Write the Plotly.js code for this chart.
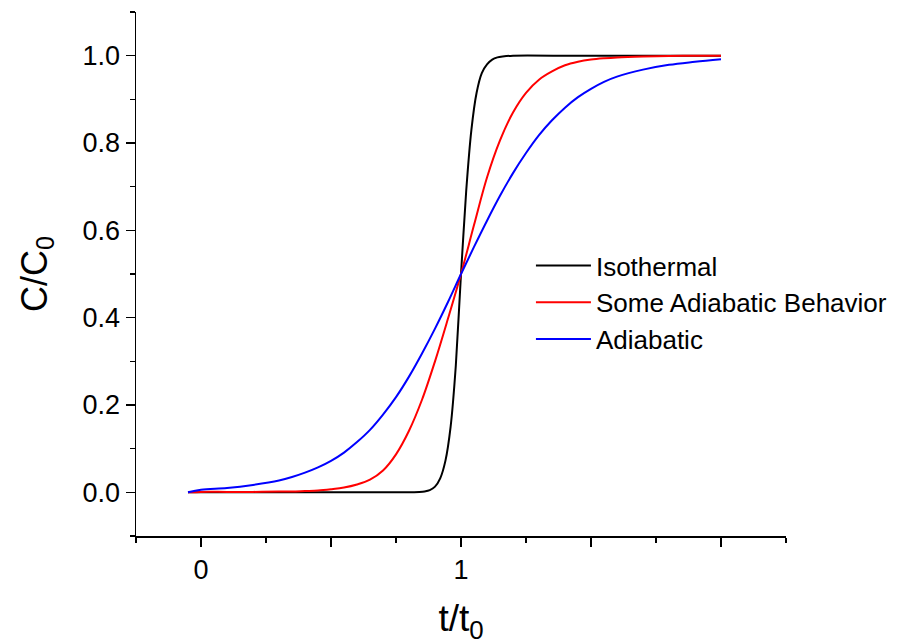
<!DOCTYPE html>
<html>
<head>
<meta charset="utf-8">
<script src="https://cdn.plot.ly/plotly-3.0.1.min.js"></script>
<style>html,body{margin:0;padding:0;background:#fff;}#chart{width:907px;height:644px;}</style>
</head>
<body>
<div id="chart"></div>
<script>
// Series names
const seriesNames = ["Isothermal", "Some Adiabatic Behavior", "Adiabatic"];

// Isothermal (black)
const isoT = [-0.05, 0, 0.2, 0.4, 0.6, 0.8, 0.84, 0.86, 0.88, 0.90, 0.92, 0.94, 0.96, 0.98, 1.0, 1.02, 1.04, 1.06, 1.08, 1.10, 1.12, 1.14, 1.16, 1.2, 1.4, 1.6, 1.8, 2.0];
const isoC = [0, 0, 0, 0, 0, 0, 0.001, 0.002, 0.005, 0.013, 0.032, 0.072, 0.15, 0.29, 0.5, 0.69, 0.83, 0.915, 0.96, 0.98, 0.991, 0.996, 0.998, 1.0, 1.0, 1.0, 1.0, 1.0];

// Some adiabatic behavior (red)
const someT = [-0.05, 0, 0.1, 0.2, 0.3, 0.35, 0.4, 0.45, 0.5, 0.55, 0.6, 0.65, 0.7, 0.75, 0.8, 0.85, 0.9, 0.95, 1.0, 1.05, 1.1, 1.15, 1.2, 1.25, 1.3, 1.35, 1.4, 1.45, 1.5, 1.55, 1.6, 1.7, 1.8, 1.9, 2.0];
const someC = [0, 0.001, 0.001, 0.001, 0.002, 0.002, 0.003, 0.004, 0.007, 0.011, 0.018, 0.029, 0.05, 0.087, 0.141, 0.212, 0.3, 0.398, 0.5, 0.612, 0.721, 0.806, 0.87, 0.915, 0.945, 0.964, 0.978, 0.986, 0.991, 0.994, 0.996, 0.998, 0.999, 1.0, 1.0];

// Adiabatic (blue)
const adiT = [-0.05, 0, 0.1, 0.2, 0.3, 0.35, 0.4, 0.45, 0.5, 0.55, 0.6, 0.65, 0.7, 0.75, 0.8, 0.85, 0.9, 0.95, 1.0, 1.05, 1.1, 1.15, 1.2, 1.25, 1.3, 1.35, 1.4, 1.45, 1.5, 1.55, 1.6, 1.7, 1.8, 1.9, 2.0];
const adiC = [0, 0.006, 0.010, 0.017, 0.027, 0.035, 0.045, 0.057, 0.072, 0.091, 0.115, 0.143, 0.178, 0.218, 0.265, 0.318, 0.375, 0.436, 0.5, 0.562, 0.622, 0.679, 0.731, 0.777, 0.818, 0.852, 0.881, 0.905, 0.924, 0.94, 0.952, 0.968, 0.979, 0.986, 0.992];

// Axis ticks
const xTickVals = [0, 0.5, 1, 1.5, 2];
const xTickText = ["0", "", "1", "", ""];
const xMinorVals = [-0.25, 0.25, 0.75, 1.25, 1.75, 2.25];
const yTickVals = [0, 0.2, 0.4, 0.6, 0.8, 1.0];
const yTickText = ["0.0", "0.2", "0.4", "0.6", "0.8", "1.0"];

const font = "Liberation Sans, Arial, sans-serif";
const mk = (x, y, name, color, smooth) => ({
  x: x, y: y, name: name, type: "scatter", mode: "lines",
  line: {color: color, width: 2, shape: "spline", smoothing: smooth}
});

const data = [
  mk(isoT, isoC, seriesNames[0], "#000000", 0.5),
  mk(someT, someC, seriesNames[1], "#ff0000", 1),
  mk(adiT, adiC, seriesNames[2], "#0000ff", 1)
];

const axisCommon = {
  showline: true, linecolor: "#000", linewidth: 1.5,
  ticks: "outside", ticklen: 9, tickwidth: 1.5, tickcolor: "#000",
  showgrid: false, zeroline: false, mirror: false,
  tickfont: {family: font, size: 27, color: "#000"}
};

const layout = {
  width: 907, height: 644,
  margin: {l: 136, r: 121, t: 12, b: 108, autoexpand: false},
  paper_bgcolor: "#fff", plot_bgcolor: "#fff",
  font: {family: font, color: "#000"},
  showlegend: true,
  legend: {
    x: 0.6076, y: 0.561, xanchor: "left", yanchor: "top",
    bgcolor: "rgba(0,0,0,0)", borderwidth: 0,
    font: {family: font, size: 26, color: "#000"},
    tracegroupgap: 0, itemwidth: 55
  },
  xaxis: Object.assign({}, axisCommon, {
    range: [-0.25, 2.25], tickmode: "array", tickvals: xTickVals, ticktext: xTickText,
    minor: {tickmode: "array", tickvals: xMinorVals, ticklen: 5, tickwidth: 1.5, tickcolor: "#000", ticks: "outside"},
    title: {text: "t/t<sub>0</sub>", font: {family: font, size: 37, color: "#000"}, standoff: 22}
  }),
  yaxis: Object.assign({}, axisCommon, {
    range: [-0.1, 1.1], tickmode: "array", tickvals: yTickVals, ticktext: yTickText,
    minor: {dtick: 0.1, tick0: 0, ticklen: 5, tickwidth: 1.5, tickcolor: "#000", ticks: "outside"},
    title: {text: "C/C<sub>0</sub>", font: {family: font, size: 36, color: "#000"}, standoff: 24}
  })
};

Plotly.newPlot("chart", data, layout, {displayModeBar: false, staticPlot: true});
</script>
</body>
</html>
